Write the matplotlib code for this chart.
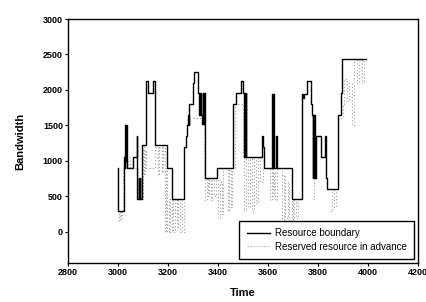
import matplotlib
matplotlib.use("Agg")
import matplotlib.pyplot as plt

nan = float('nan')

# Resource boundary (step: value holds from time until next time)
bound_t = [3000, 3001, 3025, 3027, 3030, 3032, 3034, 3036,
           3062, 3075, 3077, 3083, 3085, 3087, 3089, 3095,
           3113, 3120, 3140, 3148, 3195, 3215, 3265, 3272,
           3278, 3281, 3283, 3285, 3300, 3305, 3322, 3325,
           3328, 3331, 3336, 3339, 3342, 3345, 3347, 3397,
           3460, 3472, 3492, 3502, 3505, 3507, 3509, 3511,
           3513, 3575, 3579, 3584, 3617, 3619, 3621, 3623,
           3632, 3636, 3695, 3735, 3742, 3746, 3757, 3772,
           3778, 3780, 3782, 3784, 3786, 3788, 3791, 3814,
           3827, 3832, 3838, 3880, 3892, 3897, 3993]
bound_v = [900, 300, 1050, 900, 1500, 1000, 1500, 900,
           1050, 1350, 460, 760, 460, 760, 460, 1220,
           2120, 1960, 2120, 1220, 900, 460, 1200, 1350,
           1500, 1650, 1500, 1800, 2100, 2260, 1960, 1650,
           1960, 1650, 1520, 1960, 1520, 1960, 760, 900,
           1800, 1960, 2120, 1960, 1060, 1960, 1060, 1960,
           1060, 1350, 1200, 900, 1950, 900, 1950, 900,
           1350, 900, 460, 1950, 1880, 1950, 2120, 1800,
           1650, 760, 1650, 760, 1650, 760, 1350, 1060,
           1350, 760, 610, 1650, 1960, 2430, 2430]

# Reserved resource in advance (step, dotted; NaN = no visible reservation)
res_t = [3000, 3004, 3008, 3012, 3016, 3020, 3030, 3040,
         3050, 3060, 3080, 3085, 3090, 3100, 3104, 3108,
         3112, 3150, 3160, 3165, 3175, 3180, 3190, 3193,
         3197, 3203, 3208, 3215, 3220, 3228, 3235, 3242,
         3250, 3258, 3265, 3270, 3300, 3345, 3350, 3355,
         3360, 3365, 3372, 3378, 3385, 3392, 3400, 3408,
         3415, 3420, 3430, 3440, 3445, 3452, 3458, 3470,
         3500, 3505, 3512, 3520, 3528, 3535, 3545, 3552,
         3560, 3568, 3580, 3600, 3610, 3615, 3620, 3625,
         3630, 3635, 3640, 3655, 3665, 3670, 3680, 3685,
         3695, 3700, 3705, 3712, 3720, 3740, 3780, 3785,
         3800, 3850, 3858, 3865, 3872, 3880, 3900, 3905,
         3915, 3925, 3935, 3945, 3955, 3965, 3975, 3985,
         3990]
res_v = [300, 150, 300, 200, 300, 900, 1000, 900,
         1050, 900, 460, 760, 460, 1200, 800, 1150,
         900, 1200, 800, 1200, 850, 1200, 0, 900,
         0, 460, 0, 460, 0, 460, 50, 460,
         0, 460, 0, nan, 1600, 760, 450, 760,
         500, 760, 450, 760, 500, 760, 200, 700,
         250, 900, 900, 300, 900, 350, 900, 1800,
         1060, 300, 1060, 350, 1060, 300, 1060, 400,
         1060, 700, 900, 900, 450, 900, 500, 850,
         450, 900, 900, 150, 800, 200, 700, 150,
         460, 150, 460, 200, 460, nan, 460, 1300,
         nan, 300, 600, 350, 600, 1600, 1800, 2150,
         1850, 2100, 1500, 2430, 2100, 2430, 2100, 2430,
         2430]

plt.rcParams['font.family'] = ['Liberation Sans', 'DejaVu Sans']

fig = plt.figure(figsize=(4.27, 3.02), dpi=100)
ax = fig.add_axes([0.159, 0.129, 0.820, 0.808])

ax.step(res_t, res_v, where='post', color='#9a9a9a', linestyle=(0, (1, 2)), linewidth=0.8,
        label='Reserved resource in advance', zorder=2)
ax.step(bound_t, bound_v, where='post', color='black', linewidth=1.0,
        label='Resource boundary', zorder=3)

ax.set_xlim(2800, 4200)
ax.set_ylim(-440, 3000)
ax.set_xticks(list(range(2800, 4201, 200)))
ax.set_yticks(list(range(0, 3001, 500)))
ax.tick_params(direction='out', length=2, width=0.8, labelsize=6.5, pad=1.5)
for lab in ax.get_xticklabels() + ax.get_yticklabels():
    lab.set_fontweight('bold')
ax.set_xlabel('Time', fontsize=8, fontweight='bold', labelpad=8)
ax.set_ylabel('Bandwidth', fontsize=8, fontweight='bold', labelpad=13)
for s in ax.spines.values():
    s.set_linewidth(1.0)

handles, labels = ax.get_legend_handles_labels()
leg = ax.legend(handles[::-1], labels[::-1], loc='lower right', fontsize=7, frameon=True,
                fancybox=False, edgecolor='black', framealpha=1, borderpad=0.75,
                handlelength=2.4, handletextpad=0.5, labelspacing=0.35, borderaxespad=0.4)
leg.get_frame().set_linewidth(1.0)

fig.savefig('out.png', dpi=100)
